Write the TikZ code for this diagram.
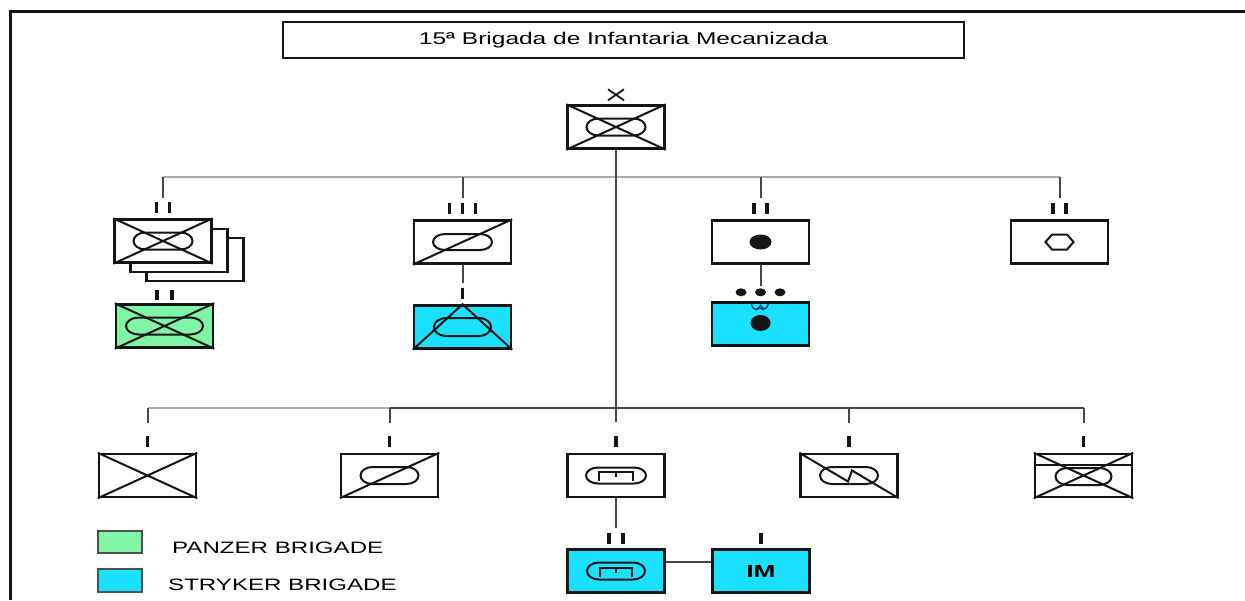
\documentclass[tikz,border=0pt]{standalone}
\usepackage{fontspec}
\usepackage{graphicx}
\setmainfont{Liberation Sans}
\usetikzlibrary{calc}
\definecolor{panzer}{RGB}{128,245,165}
\definecolor{stryker}{RGB}{25,225,255}
\definecolor{busgray}{RGB}{170,170,170}
\definecolor{conngray}{RGB}{70,70,70}
\definecolor{ink}{RGB}{20,20,20}
\definecolor{squig}{RGB}{25,45,120}
\newcommand\mystadium[4]{\draw[sym, shift={(#1)}] ({-#2+#4},{-#3}) -- ({#2-#4},{-#3})
  arc[start angle=-90, end angle=90, x radius=#4, y radius=#3] -- ({-#2+#4},{#3})
  arc[start angle=90, end angle=270, x radius=#4, y radius=#3] -- cycle;}
\begin{document}
\begin{tikzpicture}[x=1pt,y=-1pt,
  unitbox/.style={draw=ink, line width=2.4pt, minimum width=97pt, minimum height=43pt, inner sep=0pt, fill=white},
  sym/.style={draw=ink, line width=2pt},
  ech/.style={draw=ink, line width=3.2pt},
  bus/.style={draw=busgray, line width=2pt},
  conn/.style={draw=conngray, line width=2pt},
  lbl/.style={font=\fontsize{16.5}{18}\selectfont, inner sep=0pt},
  legbox/.style={draw=ink!75, line width=1.2pt, minimum width=44pt, minimum height=22pt, inner sep=0pt},
]
\useasboundingbox (0,0) rectangle (1245,600);
\fill[white] (0,0) rectangle (1245,600);
% frame
\draw[ink, line width=3pt] (1245,11) -- (10,11) -- (10,600);

% title
\node[draw=ink, line width=2pt, minimum width=681pt, minimum height=36pt, inner sep=0pt] (title) at (623.5,40)
  {\fontsize{17}{19}\selectfont\scalebox{1.44}[1]{15ª Brigada de Infantaria Mecanizada}};

% ---------- nodes ----------
\node[unitbox] (hq) at (616,127) {};
\node[unitbox] (A3) at (195,259.5) {};
\node[unitbox] (A2) at (179,250.5) {};
\node[unitbox] (A) at (163,241) {};
\node[unitbox, fill=panzer] (G) at (164.5,326) {};
\node[unitbox] (B) at (462.5,242) {};
\node[unitbox, fill=stryker] (B2) at (462.5,327) {};
\node[unitbox] (C) at (760.5,242) {};
\node[unitbox, fill=stryker] (D) at (760.5,324) {};
\node[unitbox] (E) at (1059.5,242) {};
\node[unitbox] (L1) at (147.5,475.5) {};
\node[unitbox] (L2) at (389.5,475.5) {};
\node[unitbox] (L3) at (616,475.5) {};
\node[unitbox] (L4) at (849,475.5) {};
\node[unitbox] (L5) at (1083.5,475.5) {};
\node[unitbox, fill=stryker] (F) at (616,571) {};
\node[unitbox, fill=stryker] (IM) at (761,571)
  {\fontsize{17.5}{19}\selectfont\bfseries\scalebox{1.5}[1]{IM}};

% ---------- connectors ----------
\coordinate (b1) at (0,177);
\coordinate (b2) at (0,408);
\draw[bus] (A.north |- b1) -- (E.north |- b1);
\foreach \n in {A,B,C,E} \draw[conn] (\n.north |- b1) -- ++(0,21);
\draw[conn] (hq.south) -- ($(L3.north)+(0,-31)$);
\draw[bus] (L1.north |- b2) -- (L2.north |- b2);
\draw[conn] (L2.north |- b2) -- (L5.north |- b2);
\foreach \n in {L1,L2,L4,L5} \draw[conn] (\n.north |- b2) -- ++(0,15);
\draw[conn] (B.south) -- ++(0,18);
\draw[conn] (C.south) -- ++(0,21);
\draw[conn] (L3.south) -- ++(0,30);
\draw[conn] ([yshift=9pt]F.east) -- ([yshift=9pt]IM.west);

% ---------- echelon marks ----------
\draw[ink, line width=1.8pt] (hq.north) ++(-8,-15) -- ++(16,11) ++(0,-11) -- ++(-16,11);
\foreach \dx in {-6.5,6.5} \draw[ech] ($(A.north)+(\dx,-16)$) -- ++(0,11);
\foreach \dx in {-7.5,7.5} \draw[ech] ($(G.north)+(\dx,-13)$) -- ++(0,10);
\foreach \dx in {-13,0,13} \draw[ech] ($(B.north)+(\dx,-16)$) -- ++(0,11);
\draw[ech] ($(B2.north)+(0,-16)$) -- ++(0,11);
\foreach \dx in {-6.5,6.5} \draw[ech] ($(C.north)+(\dx,-16)$) -- ++(0,11);
\foreach \dx in {-19.5,0,19.5} \fill[ink] ($(D.north)+(\dx,-9)$) ellipse [x radius=5.5, y radius=4];
\foreach \dx in {-6.5,6.5} \draw[ech] ($(E.north)+(\dx,-16)$) -- ++(0,11);
\foreach \n in {L1,L2,L3,L4,L5} \draw[ech] ($(\n.north)+(0,-17)$) -- ++(0,11);
\foreach \dx in {-7,7} \draw[ech] ($(F.north)+(\dx,-15)$) -- ++(0,11);
\draw[ech] ($(IM.north)+(0,-15)$) -- ++(0,11);

% ---------- symbols ----------
% brigade HQ: mechanized infantry
\draw[sym] (hq.north west) -- (hq.south east) (hq.south west) -- (hq.north east);
\mystadium{hq.center}{29.5}{8.5}{12}
% stacked mech inf battalions
\draw[sym] (A.north west) -- (A.south east) (A.south west) -- (A.north east);
\mystadium{A.center}{29.5}{8.5}{12}
% panzer
\draw[sym] (G.north west) -- (G.south east) (G.south west) -- (G.north east);
\mystadium{G.center}{38.5}{8.5}{13}
% armored cavalry
\draw[sym] (B.south west) -- (B.north east);
\mystadium{B.center}{29.5}{8}{12}
% stryker cavalry
\draw[sym] (B2.south west) -- (B2.north) -- (B2.south east);
\mystadium{B2.center}{28.5}{9}{12}
% field artillery
\fill[ink] (C.center) ellipse [x radius=11, y radius=7.5];
\fill[ink] ($(D.center)+(0,-1)$) ellipse [x radius=10, y radius=8];
\draw[squig, line width=1.2pt] ($(D.north)+(-9,3)$) .. controls +(2,7) and +(-3,5) .. ($(D.north)+(0,4)$)
  .. controls +(3,5) and +(-2,7) .. ($(D.north)+(8,2)$);
\draw[squig, line width=1.2pt] ($(D.north)+(-4,9)$) .. controls +(2,-3) and +(-2,-3) .. ($(D.north)+(3,9)$);
% support (hexagon)
\draw[sym, shift={(E.center)}] (-14,0) -- (-7.5,-7.5) -- (7.5,-7.5) -- (14,0) -- (7.5,7.5) -- (-7.5,7.5) -- cycle;
% lower row
\draw[sym] (L1.north west) -- (L1.south east) (L1.south west) -- (L1.north east);
\draw[sym] (L2.south west) -- (L2.north east);
\mystadium{L2.center}{29}{8.5}{12}
\mystadium{L3.center}{30}{8}{12}
\draw[sym, shift={(L3.center)}] (-17,5.5) -- (-17,-3.5) -- (17,-3.5) -- (17,5.5) (0,-3.5) -- (0,1.5);
\draw[sym] (L4.north west) -- ($(L4.center)+(-1,6)$) -- ($(L4.center)+(3,-5)$) -- (L4.south east);
\mystadium{L4.center}{29}{8.5}{12}
\draw[sym] (L5.north west) -- (L5.south east) (L5.south west) -- (L5.north east);
\draw[sym] ($(L5.north west)+(0,12)$) -- ($(L5.north east)+(0,12)$);
\mystadium{$(L5.center)+(0,1)$}{28}{8.5}{12}
% stryker engineers
\mystadium{F.center}{29}{8.5}{12}
\draw[sym, shift={(F.center)}] (-16,5.5) -- (-16,-3.5) -- (16,-3.5) -- (16,5.5) (0,-3.5) -- (0,1.5);

% ---------- legend ----------
\node[legbox, fill=panzer] (lgP) at (120,542) {};
\node[lbl, anchor=base west] (lgPt) at (172,553) {\scalebox{1.46}[1]{PANZER BRIGADE}};
\node[legbox, fill=stryker, minimum height=23pt] (lgS) at (120,580.5) {};
\node[lbl, anchor=base west] (lgSt) at (168,590) {\scalebox{1.46}[1]{STRYKER BRIGADE}};
\end{tikzpicture}
\end{document}
